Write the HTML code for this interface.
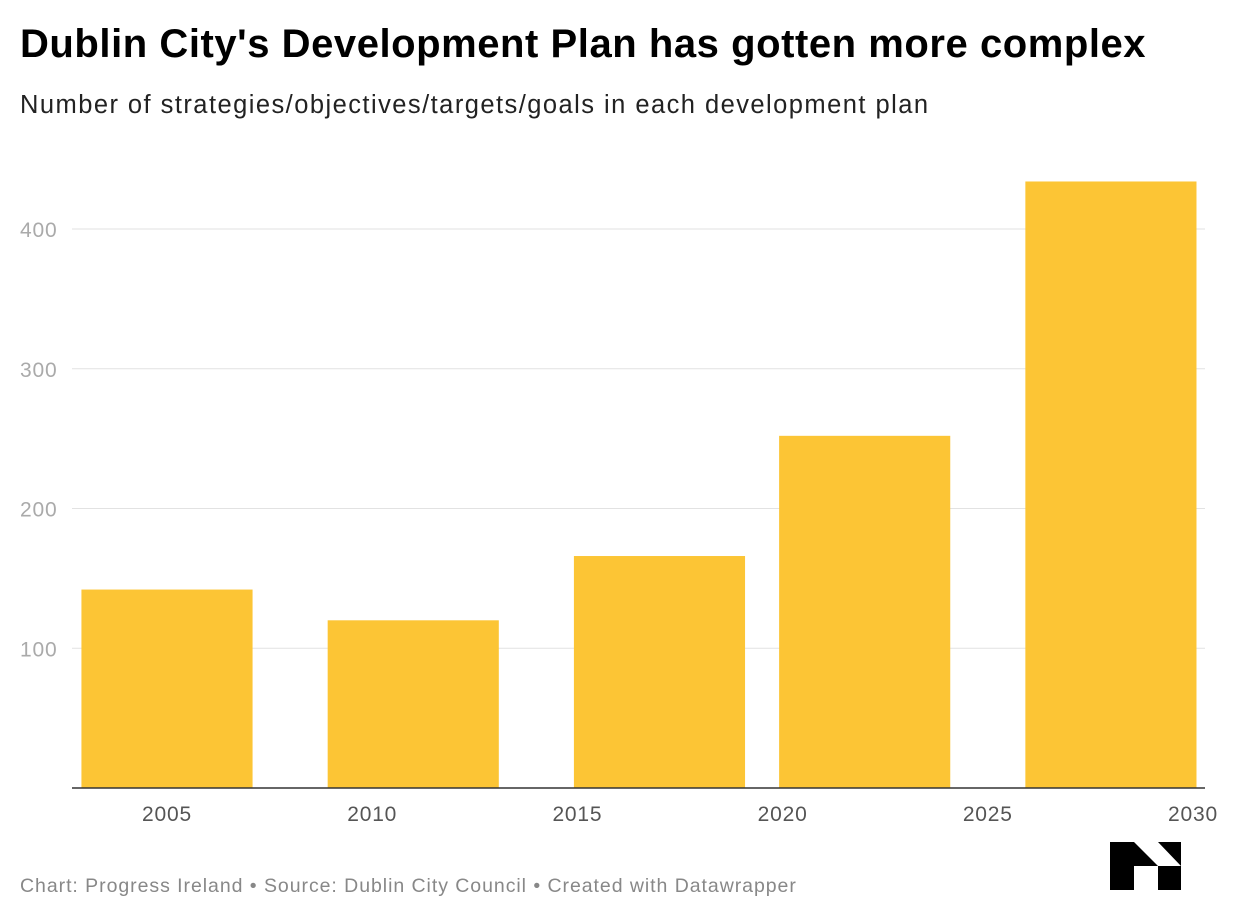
<!DOCTYPE html>
<html><head><meta charset="utf-8">
<style>
body{margin:0;background:#fff;font-family:"Liberation Sans",Arial,sans-serif;}
#wrap{position:relative;width:1240px;height:920px;overflow:hidden;}
h1{position:absolute;left:20px;top:22px;margin:0;font-size:40px;font-weight:bold;color:#000;letter-spacing:0.55px;white-space:nowrap;}
.sub{position:absolute;left:20px;top:91px;font-size:25.5px;color:#222;letter-spacing:1.45px;white-space:nowrap;}
.foot{position:absolute;left:20px;top:875px;font-size:19.5px;color:#888;letter-spacing:0.95px;white-space:nowrap;}
svg{position:absolute;left:0;top:0;}
</style></head><body>
<div id="wrap">
<h1>Dublin City's Development Plan has gotten more complex</h1>
<div class="sub">Number of strategies/objectives/targets/goals in each development plan</div>
<svg id="chart" width="1240" height="920"></svg>
<div class="foot">Chart: Progress Ireland • Source: Dublin City Council • Created with Datawrapper</div>
</div>
<script>
const planCenters=[2005,2011,2017,2022,2028];
const planValues=[142,120,166,252,434];
const yTicks=[100,200,300,400];
const xTicks=[2005,2010,2015,2020,2025,2030];
const barWidthYears=4.17;

const NS="http://www.w3.org/2000/svg";
const svg=document.getElementById('chart');
const x=yr=>167+(yr-2005)*41.04;
const y=v=>788-v*1.3975;
function mk(tag,attrs){const e=document.createElementNS(NS,tag);for(const k in attrs)e.setAttribute(k,attrs[k]);svg.appendChild(e);return e;}
yTicks.forEach(t=>{
  const g=mk('line',{x1:72,x2:1205,y1:y(t),y2:y(t),stroke:'#e2e2e2','stroke-width':1});
  
  
  const l=mk('text',{x:20,y:y(t)+8,'font-size':21,fill:'#aaa','letter-spacing':0.8,'font-family':'Liberation Sans, sans-serif'});
  l.textContent=t;
  
  
});
planCenters.forEach((c,i)=>{
  const x0=x(c-barWidthYears/2),x1=x(c+barWidthYears/2);
  const r=mk('rect',{x:x0,y:y(planValues[i]),width:x1-x0,height:y(0)-y(planValues[i]),fill:'#fcc535'});
  
  
});
const ax=mk('line',{x1:72,x2:1205,y1:788,y2:788,stroke:'#333','stroke-width':1.5});


xTicks.forEach(t=>{
  const l=mk('text',{x:x(t),y:821,'font-size':21,fill:'#555','text-anchor':'middle','letter-spacing':0.8,'font-family':'Liberation Sans, sans-serif'});
  l.textContent=t;
  
  
});
const logo=mk('path',{d:'M1110 842 H1134 L1158 866 H1134 V890 H1110 Z M1158 842 H1181 V866 Z M1158 866 H1181 V890 H1158 Z',fill:'#000'});


</script>
</body></html>
